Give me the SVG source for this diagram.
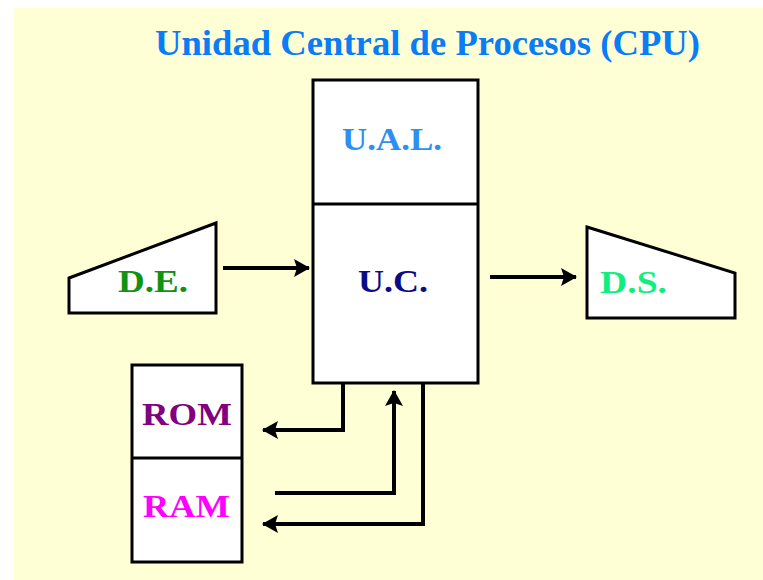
<svg xmlns="http://www.w3.org/2000/svg" width="763" height="580" viewBox="0 0 763 580">
<style>
.box{fill:#ffffff;stroke:#000000;stroke-width:3}
.lbl{font-family:"Liberation Serif","Times New Roman",serif;font-weight:bold;font-size:32px}
.title{font-size:35px}
.conn{fill:none;stroke:#000000;stroke-width:4;stroke-linejoin:miter}
</style>
<defs>
<marker id="ah" markerUnits="userSpaceOnUse" markerWidth="16" markerHeight="18" refX="15" refY="9" orient="auto">
<path d="M0,0 L16,9 L0,18 L3,9 Z" fill="#000000"/>
</marker>
</defs>
<rect x="0" y="0" width="763" height="580" fill="#ffffff"/>
<rect x="14" y="8" width="749" height="572" fill="#ffffd6"/>
<text class="lbl title" x="155" y="55" fill="#0a7cf5" textLength="545" lengthAdjust="spacingAndGlyphs">Unidad Central de Procesos (CPU)</text>
<g id="cpu">
<rect class="box" x="313" y="80" width="165" height="303"/>
<line x1="313" y1="204" x2="478" y2="204" stroke="#000000" stroke-width="3"/>
</g>
<g id="ual">
<text class="lbl" x="342" y="150" fill="#2f8ff0" textLength="100" lengthAdjust="spacingAndGlyphs">U.A.L.</text>
</g>
<g id="uc">
<text class="lbl" x="358" y="292" fill="#0b0b86" textLength="70" lengthAdjust="spacingAndGlyphs">U.C.</text>
</g>
<g id="de">
<polygon class="box" points="69,278 216,223 216,313 69,313"/>
<text class="lbl" x="118" y="292" fill="#129212" textLength="70" lengthAdjust="spacingAndGlyphs">D.E.</text>
</g>
<g id="ds">
<polygon class="box" points="587,227 735,273 735,318 587,318"/>
<text class="lbl" x="600" y="293" fill="#11ee80" textLength="67" lengthAdjust="spacingAndGlyphs">D.S.</text>
</g>
<g id="memory">
<rect class="box" x="132" y="365" width="110" height="197"/>
<line x1="132" y1="458" x2="242" y2="458" stroke="#000000" stroke-width="3"/>
</g>
<g id="rom">
<text class="lbl" x="142" y="425" fill="#800080" textLength="90" lengthAdjust="spacingAndGlyphs">ROM</text>
</g>
<g id="ram">
<text class="lbl" x="143" y="517" fill="#ff00ff" textLength="87" lengthAdjust="spacingAndGlyphs">RAM</text>
</g>
<g id="connectors">
<path class="conn" d="M223,268 L309,268" marker-end="url(#ah)"/>
<path class="conn" d="M490,277 L576,277" marker-end="url(#ah)"/>
<path class="conn" d="M343,383 L343,430 L263,430" marker-end="url(#ah)"/>
<path class="conn" d="M275,493 L394,493 L394,391" marker-end="url(#ah)"/>
<path class="conn" d="M423,383 L423,524 L263,524" marker-end="url(#ah)"/>
</g>
</svg>
